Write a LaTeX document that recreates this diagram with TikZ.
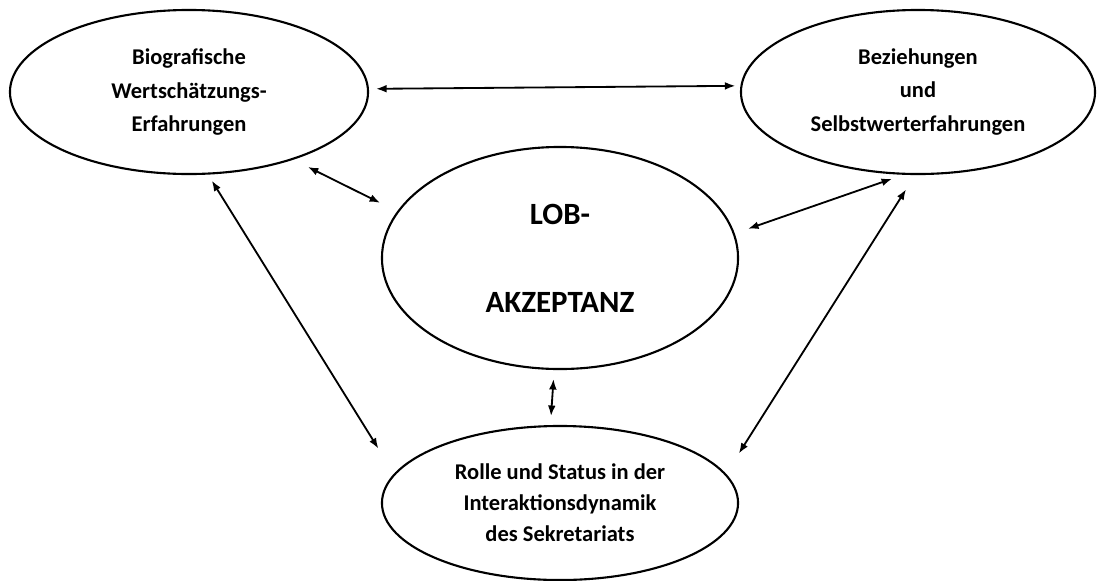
\documentclass[tikz,border=0pt]{standalone}
\usepackage{fontspec}
\setmainfont{Carlito}
\usetikzlibrary{shapes.geometric,arrows.meta}
\tikzset{
  blase/.style={ellipse, draw, line width=1.5pt, inner sep=0pt, align=center,
    font=\bfseries\fontsize{16}{23.5}\selectfont},
}
\begin{document}
\begin{tikzpicture}[x=0.025cm,y=-0.025cm]
      \useasboundingbox (0,0) rectangle (1098,580);
      \draw
        (189,92) node[blase, minimum width=8.95cm, minimum height=4.1cm] (bio){Biografische\\Wertschätzungs-\\Erfahrungen}
        (918,92) node[blase, minimum width=8.85cm, minimum height=4.1cm] (bez){Beziehungen\\und\\Selbstwerterfahrungen}
        (560,258) node[blase, minimum width=8.9cm, minimum height=5.55cm,
          font=\bfseries\fontsize{22}{62.6}\selectfont] (lob){LOB-\\AKZEPTANZ}
        (560,503) node[blase, minimum width=8.9cm, minimum height=3.85cm,
          font=\bfseries\fontsize{16}{22}\selectfont] (rolle){Rolle und Status in der\\Interaktionsdynamik\\des Sekretariats};
      \begin{scope}[<->, >={Latex[length=7.5pt,width=5.5pt]}, line width=1.3pt]
        \draw[shorten <=5pt, shorten >=3.5pt] (bio.1) to (bez.178);
        \draw[shorten <=11.5pt, shorten >=13.5pt] (bio.-33) to (lob.164);
        \draw[shorten <=5pt, shorten >=21pt] (bio.-77) to (rolle.170);
        \draw[shorten <=10pt, shorten >=8.5pt] (lob.8) to (bez.-100);
        \draw[shorten <=17pt, shorten >=12pt] (rolle.10) to (bez.-92);
        \draw[shorten <=6.4pt, shorten >=6.4pt] (lob.-93) to (rolle.97);
      \end{scope}
    \end{tikzpicture}
\end{document}
